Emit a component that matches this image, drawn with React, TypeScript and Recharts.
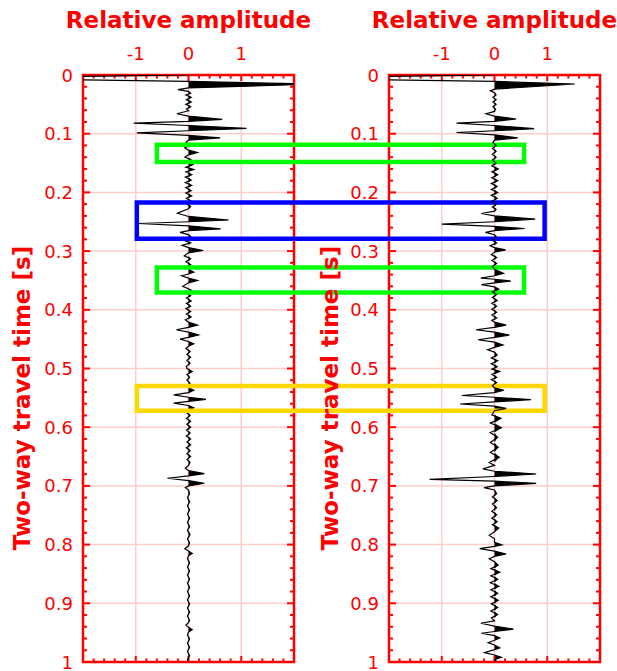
import React from 'react';
import {
  ComposedChart,
  Area,
  Line,
  XAxis,
  YAxis,
  CartesianGrid,
  ReferenceArea,
  Label,
} from 'recharts';

const FONT = '"DejaVu Sans", "Liberation Sans", Arial, sans-serif';
const RED = '#ff0000';
const GRID = '#ffcccc';

// axis ticks
const timeTicks = [0, 0.1, 0.2, 0.3, 0.4, 0.5, 0.6, 0.7, 0.8, 0.9, 1];
const timeLabels = ['0', '0.1', '0.2', '0.3', '0.4', '0.5', '0.6', '0.7', '0.8', '0.9', '1'];
const ampTicks = [-1, 0, 1];
const ampLabels = ['-1', '0', '1'];
const timeMinor = Array.from({ length: 49 }, (_, i) => Math.round((i + 1) * 2) / 100);
const ampMinor = Array.from({ length: 19 }, (_, i) => Math.round((i - 9) * 2) / 10);

// [time (s), relative amplitude]
const leftTrace: [number, number][] = [
  [0, 0], [0.005, -4.2], [0.011, 0], [0.0155, 2.4], [0.022, 0],
  [0.025, -0.2], [0.028, 0], [0.031, 0.04], [0.034, -0.05], [0.038, 0.05], [0.042, -0.04],
  [0.046, 0.05], [0.05, -0.05], [0.054, 0.04], [0.058, -0.04], [0.061, 0],
  [0.066, -0.22], [0.07, 0], [0.0755, 0.64], [0.079, 0], [0.082, -1.04], [0.086, 0],
  [0.091, 1.1], [0.095, 0], [0.0985, -0.98], [0.103, 0], [0.107, 0.6], [0.111, 0],
  [0.115, -0.05], [0.12, 0.04], [0.124, -0.07], [0.128, 0], [0.132, 0.17], [0.136, 0],
  [0.14, -0.07], [0.144, 0.04], [0.148, -0.05], [0.153, 0.08], [0.157, -0.05], [0.161, 0.1],
  [0.165, -0.05], [0.17, 0.06], [0.174, -0.06], [0.179, 0.05], [0.183, -0.06], [0.188, 0.06],
  [0.192, -0.05], [0.197, 0.05], [0.201, -0.05], [0.206, 0.06], [0.21, -0.04], [0.215, 0.05],
  [0.219, -0.04], [0.224, 0.04], [0.228, 0], [0.2355, -0.21], [0.241, 0], [0.247, 0.76],
  [0.25, 0], [0.253, -0.95], [0.257, 0], [0.262, 0.61], [0.265, 0], [0.268, -0.16],
  [0.272, 0], [0.276, 0.05], [0.281, -0.1], [0.286, 0.04], [0.29, -0.12], [0.294, 0],
  [0.299, 0.28], [0.303, 0], [0.308, -0.08], [0.313, 0.04], [0.318, -0.05], [0.323, 0.04],
  [0.327, -0.05], [0.331, 0], [0.336, 0.1], [0.339, 0], [0.342, -0.13], [0.346, 0],
  [0.35, 0.17], [0.354, 0], [0.36, -0.11], [0.364, 0], [0.367, 0.06], [0.371, -0.05],
  [0.376, 0.04], [0.38, -0.04], [0.385, 0.05], [0.389, -0.04], [0.394, 0.04], [0.398, -0.05],
  [0.403, 0.04], [0.407, -0.04], [0.412, 0.05], [0.417, -0.06], [0.421, 0],
  [0.426, 0.17], [0.43, 0], [0.434, -0.23], [0.438, 0], [0.443, 0.19], [0.447, 0],
  [0.45, -0.16], [0.454, 0], [0.458, 0.1], [0.462, 0], [0.466, -0.05],
  [0.471, 0.03], [0.476, -0.03], [0.481, 0.04], [0.486, -0.03], [0.491, 0.03], [0.496, -0.04],
  [0.5, -0.03], [0.505, 0.07], [0.51, -0.03], [0.515, 0.02], [0.52, -0.03], [0.525, 0.03],
  [0.529, -0.03], [0.533, 0], [0.537, 0.1], [0.541, 0], [0.545, -0.28], [0.549, 0],
  [0.5525, 0.33], [0.556, 0], [0.559, -0.28], [0.563, 0], [0.567, 0.1], [0.571, 0],
  [0.575, -0.04], [0.58, 0.03], [0.585, -0.04], [0.59, 0.04], [0.595, -0.03], [0.6, 0.04],
  [0.605, -0.04], [0.61, 0.03], [0.615, -0.04], [0.62, 0.04], [0.625, -0.03], [0.63, 0.04],
  [0.635, -0.04], [0.64, 0.03], [0.645, -0.03], [0.65, 0.04], [0.655, -0.03], [0.66, 0.03],
  [0.665, 0], [0.67, -0.06], [0.674, 0], [0.679, 0.3], [0.683, 0], [0.687, -0.4], [0.691, 0],
  [0.6955, 0.3], [0.7, 0], [0.703, -0.06], [0.707, 0],
  [0.713, 0.02], [0.72, -0.02], [0.727, 0.02], [0.734, -0.02], [0.741, 0.02], [0.748, -0.02],
  [0.755, 0.02], [0.762, -0.02], [0.769, 0.02], [0.776, -0.02], [0.783, 0.03], [0.79, -0.02],
  [0.797, 0.02], [0.802, 0], [0.807, -0.07], [0.811, 0], [0.815, 0.07], [0.819, 0],
  [0.824, -0.02], [0.831, 0.02], [0.838, -0.02], [0.845, 0.02], [0.852, -0.02], [0.859, 0.02],
  [0.866, -0.02], [0.873, 0.02], [0.88, -0.02], [0.887, 0.02], [0.894, -0.02], [0.901, 0.02],
  [0.908, -0.02], [0.915, 0.02], [0.922, -0.02], [0.929, 0.02], [0.933, 0], [0.937, -0.05],
  [0.941, 0], [0.945, 0.07], [0.949, 0], [0.954, -0.02], [0.961, 0.02], [0.968, -0.02],
  [0.975, 0.02], [0.982, -0.02], [0.989, 0.02], [0.996, -0.02], [1, 0],
];

const rightTrace: [number, number][] = [
  [0, 0], [0.005, -4.2], [0.011, 0], [0.0153, 1.52], [0.024, 0],
  [0.027, -0.08], [0.03, 0], [0.034, 0.03], [0.038, -0.03], [0.042, 0.03], [0.046, -0.03],
  [0.05, 0.03], [0.054, -0.03], [0.058, 0.02], [0.062, 0],
  [0.066, -0.16], [0.07, 0], [0.075, 0.41], [0.079, 0], [0.082, -0.72], [0.086, 0],
  [0.0915, 0.75], [0.095, 0], [0.098, -0.72], [0.102, 0], [0.107, 0.44], [0.111, 0],
  [0.115, -0.03], [0.12, 0.03], [0.125, -0.04], [0.13, 0.03], [0.135, -0.04], [0.14, 0.03],
  [0.145, -0.04], [0.15, 0.03], [0.155, -0.05], [0.16, 0.07], [0.165, -0.05], [0.17, 0.06],
  [0.175, -0.05], [0.18, 0.06], [0.185, -0.06], [0.19, 0.05], [0.195, -0.06], [0.2, 0.06],
  [0.205, -0.06], [0.21, 0.05], [0.215, -0.05], [0.22, 0.04], [0.225, -0.04], [0.229, 0.03],
  [0.232, 0], [0.236, -0.25], [0.24, 0], [0.2455, 0.77], [0.25, 0], [0.254, -1.0],
  [0.258, 0], [0.2615, 0.57], [0.265, 0], [0.268, -0.17], [0.272, 0],
  [0.276, 0.04], [0.281, -0.05], [0.286, 0.04], [0.291, -0.08], [0.294, 0], [0.298, 0.21],
  [0.302, 0], [0.306, -0.06], [0.311, 0.04], [0.316, -0.05], [0.321, 0.04], [0.326, -0.04],
  [0.331, 0], [0.338, 0.17], [0.342, 0], [0.346, -0.26], [0.348, 0], [0.351, 0.31],
  [0.354, 0], [0.357, -0.25], [0.361, 0], [0.365, 0.08], [0.369, -0.04],
  [0.374, 0.04], [0.379, -0.04], [0.384, 0.05], [0.389, -0.05], [0.394, 0.04], [0.399, -0.05],
  [0.404, 0.04], [0.409, -0.05], [0.414, 0.04], [0.418, -0.05], [0.421, 0],
  [0.426, 0.22], [0.43, 0], [0.434, -0.35], [0.438, 0], [0.443, 0.28], [0.447, 0],
  [0.451, -0.31], [0.455, 0], [0.46, 0.16], [0.464, 0], [0.468, -0.13], [0.472, 0],
  [0.477, 0.05], [0.482, -0.06], [0.487, 0.06], [0.492, -0.06], [0.497, 0.05], [0.501, -0.05],
  [0.505, 0.1], [0.51, -0.05], [0.515, 0.04], [0.519, -0.06], [0.524, 0.04], [0.529, -0.04],
  [0.533, 0], [0.537, 0.18], [0.541, 0], [0.546, -0.62], [0.549, 0], [0.553, 0.69],
  [0.557, 0], [0.5605, -0.65], [0.564, 0], [0.568, 0.22], [0.572, 0],
  [0.579, -0.05], [0.585, 0.12], [0.593, -0.08], [0.601, 0.13], [0.609, -0.08], [0.617, 0.06],
  [0.626, -0.08], [0.634, 0.07], [0.643, -0.08], [0.651, 0.09], [0.66, -0.1], [0.665, 0],
  [0.671, -0.22], [0.675, 0], [0.6797, 0.79], [0.684, 0], [0.6888, -1.23], [0.692, 0],
  [0.6956, 0.79], [0.7, 0], [0.703, -0.2], [0.707, 0],
  [0.713, 0.04], [0.719, -0.04], [0.725, 0.05], [0.731, -0.04], [0.737, 0.04], [0.743, -0.05],
  [0.749, 0.04], [0.755, -0.05], [0.761, 0.05], [0.766, -0.04], [0.772, 0.08], [0.778, 0],
  [0.784, -0.1], [0.79, 0], [0.796, 0], [0.8005, 0.14], [0.803, 0], [0.807, -0.28],
  [0.811, 0], [0.816, 0.22], [0.82, 0], [0.824, -0.1], [0.829, 0],
  [0.835, 0.07], [0.841, -0.07], [0.847, 0.1], [0.853, -0.07], [0.859, 0.06], [0.865, -0.08],
  [0.871, 0.08], [0.877, -0.07], [0.883, 0.06], [0.889, -0.07], [0.895, 0.07], [0.901, -0.06],
  [0.907, 0.06], [0.913, -0.07], [0.919, 0.06], [0.925, -0.06], [0.93, 0],
  [0.934, -0.26], [0.939, 0], [0.944, 0.36], [0.948, 0], [0.951, -0.25], [0.955, 0],
  [0.959, 0.1], [0.963, 0], [0.967, -0.12], [0.971, 0], [0.976, 0.1], [0.979, 0],
  [0.984, -0.19], [0.988, 0], [0.992, 0.13], [0.996, 0], [1, 0.05],
];

// highlight boxes: left edge in left-panel amplitude, right edge in right-panel amplitude
const boxColors = ['#00ff00', '#0000ff', '#00ff00', '#ffd700'];
const boxTop = [0.119, 0.217, 0.328, 0.53];
const boxBottom = [0.148, 0.279, 0.3705, 0.572];
const boxLeftAmp = [-0.6, -0.98, -0.6, -0.98];
const boxRightAmp = [0.56, 0.95, 0.56, 0.95];

// layout
const PLOT_W = 211;
const PLOT_H = 587;
const TOP_H = 75;
const LEFT_AXIS_W = 83;
const RIGHT_OFFSET = 300;
const RIGHT_AXIS_W = 89;
const PANEL_SHIFT = (RIGHT_OFFSET + RIGHT_AXIS_W - LEFT_AXIS_W) / (PLOT_W / 4);

const toRows = (trace: [number, number][]) =>
  trace.map(([t, a]) => ({ t, a, pos: Math.max(a, 0) }));

const isIn = (list: number[], v: number) => list.findIndex((x) => Math.abs(x - v) < 1e-6);

// red frame with inward ticks on all four sides (rect comes from the reference area)
const FrameShape = (props: any) => {
  const { x, y, width, height } = props;
  const px = (v: number) => x + ((v + 2) / 4) * width;
  const py = (t: number) => y + t * height;
  return (
    <g>
      {ampMinor.map((v) => {
        const len = isIn(ampTicks, v) >= 0 ? 6 : 3.5;
        const cx = px(v);
        return (
          <g key={`a${v}`}>
            <line x1={cx} x2={cx} y1={y} y2={y + len} stroke={RED} strokeWidth={2} />
            <line x1={cx} x2={cx} y1={y + height - len} y2={y + height} stroke={RED} strokeWidth={2} />
          </g>
        );
      })}
      {timeMinor.map((t) => {
        const len = isIn(timeTicks, t) >= 0 ? 7 : 4;
        const cy = py(t);
        return (
          <g key={`t${t}`}>
            <line x1={x} x2={x + len} y1={cy} y2={cy} stroke={RED} strokeWidth={2} />
            <line x1={x + width - len} x2={x + width} y1={cy} y2={cy} stroke={RED} strokeWidth={2} />
          </g>
        );
      })}
      <rect x={x} y={y} width={width} height={height} fill="none" stroke={RED} strokeWidth={2.5} />
    </g>
  );
};

const TimeTick = (props: any) => {
  const { x, y, payload } = props;
  const idx = isIn(timeTicks, payload.value);
  if (idx < 0) return <g />;
  return (
    <text x={x - 10} y={y + 6.5} textAnchor="end" fill={RED} fontSize={18} fontFamily={FONT}>
      {timeLabels[idx]}
    </text>
  );
};

const AmpTick = (props: any) => {
  const { x, y, payload } = props;
  const idx = isIn(ampTicks, payload.value);
  if (idx < 0) return <g />;
  return (
    <text x={x} y={y - 15} textAnchor="middle" fill={RED} fontSize={18} fontFamily={FONT}>
      {ampLabels[idx]}
    </text>
  );
};

const Panel = ({ data, axisW, width, titleX, boxes }: any) => (
  <ComposedChart
    layout="vertical"
    width={width}
    height={TOP_H + PLOT_H + 9}
    data={data}
    margin={{ top: 0, right: width - axisW - PLOT_W, bottom: 9, left: 0 }}
  >
    <CartesianGrid
      stroke={GRID}
      strokeWidth={1.5}
      horizontalValues={[0.1, 0.2, 0.3, 0.4, 0.5, 0.6, 0.7, 0.8, 0.9]}
      verticalValues={ampTicks}
    />
    <XAxis
      type="number"
      orientation="top"
      domain={[-2, 2]}
      allowDataOverflow
      ticks={ampTicks}
      interval={0}
      height={TOP_H}
      tickSize={0}
      tickMargin={0}
      axisLine={false}
      tickLine={false}
      tick={(p: any) => <AmpTick {...p} />}
    >
      <Label
        content={({ viewBox }: any) => (
          <text
            x={viewBox.x + viewBox.width / 2}
            y={28}
            textAnchor="middle"
            fill={RED}
            fontSize={23}
            fontWeight="bold"
            fontFamily={FONT}
          >
            Relative amplitude
          </text>
        )}
      />
    </XAxis>
    <YAxis
      type="number"
      dataKey="t"
      domain={[0, 1]}
      allowDataOverflow
      ticks={timeTicks}
      interval={0}
      width={axisW}
      tickSize={0}
      tickMargin={0}
      axisLine={false}
      tickLine={false}
      tick={(p: any) => <TimeTick {...p} />}
    >
      <Label
        content={() => (
          <text
            x={titleX}
            y={398}
            transform={`rotate(-90, ${titleX}, 398)`}
            textAnchor="middle"
            dominantBaseline="central"
            fill={RED}
            fontSize={23}
            fontWeight="bold"
            fontFamily={FONT}
          >
            Two-way travel time [s]
          </text>
        )}
      />
    </YAxis>
    <Area dataKey="pos" stroke="none" fill="#000" fillOpacity={1} isAnimationActive={false} />
    <Line dataKey="a" stroke="#000" strokeWidth={1.2} dot={false} isAnimationActive={false} />
    <ReferenceArea x1={-2} x2={2} y1={0} y2={1} ifOverflow="visible" shape={(p: any) => <FrameShape {...p} />} />
    {boxes &&
      boxColors.map((c, i) => (
        <ReferenceArea
          key={i}
          x1={boxLeftAmp[i] - PANEL_SHIFT}
          x2={boxRightAmp[i]}
          y1={boxTop[i]}
          y2={boxBottom[i]}
          fill="none"
          stroke={c}
          strokeWidth={4.5}
          ifOverflow="visible"
        />
      ))}
  </ComposedChart>
);

export default function App() {
  return (
    <div style={{ position: 'absolute', left: 0, top: 0, width: 617, height: 671, background: '#fff' }}>
      <style>{'.recharts-surface{overflow:visible}'}</style>
      <div style={{ position: 'absolute', left: 0, top: 0 }}>
        <Panel data={toRows(leftTrace)} axisW={LEFT_AXIS_W} width={RIGHT_OFFSET} titleX={22} boxes={false} />
      </div>
      <div style={{ position: 'absolute', left: RIGHT_OFFSET, top: 0 }}>
        <Panel data={toRows(rightTrace)} axisW={RIGHT_AXIS_W} width={617 - RIGHT_OFFSET} titleX={30} boxes />
      </div>
    </div>
  );
}
